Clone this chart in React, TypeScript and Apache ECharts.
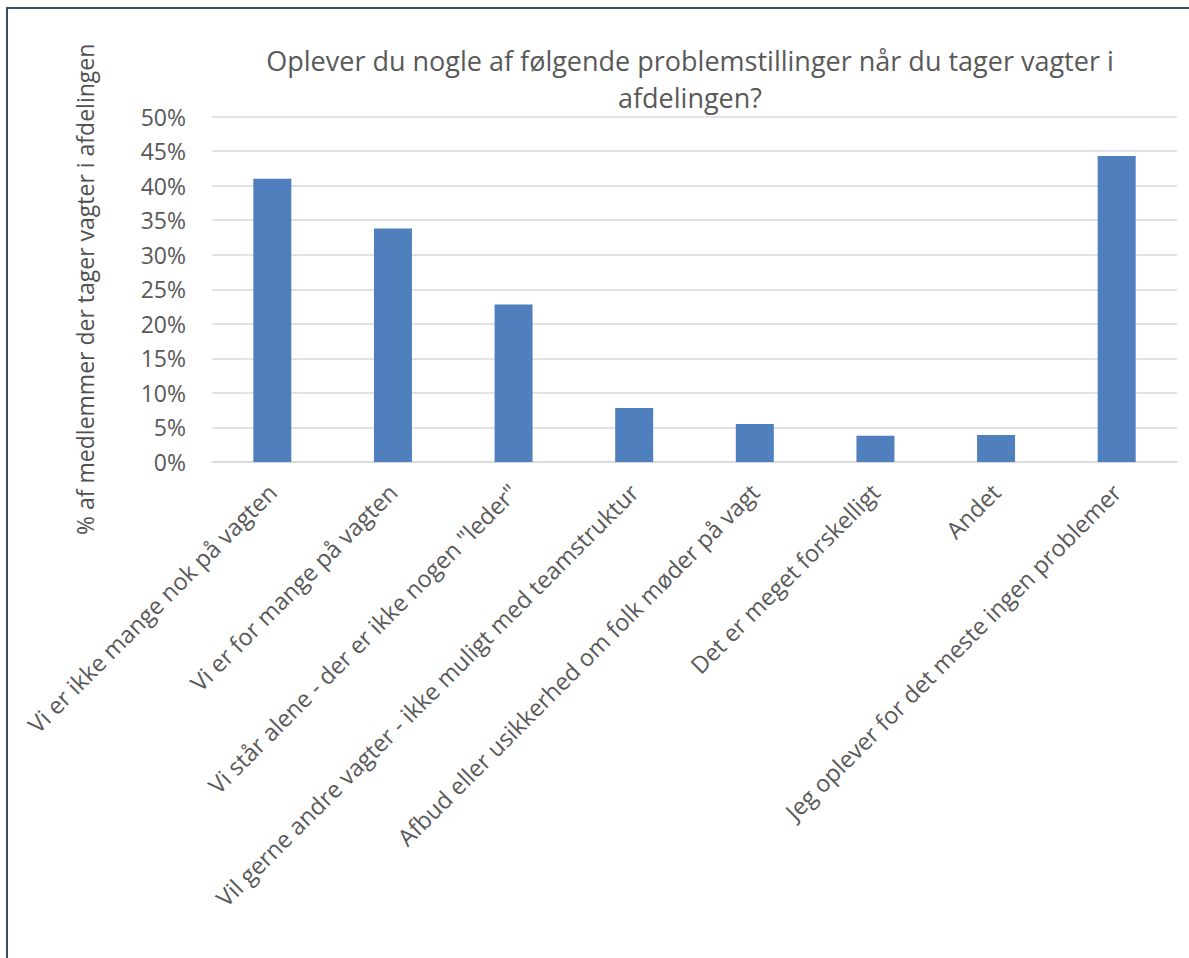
import React, { useEffect, useRef } from "react";
import * as echarts from "echarts";

const titleText = "Oplever du nogle af følgende problemstillinger når du tager vagter i\nafdelingen?";
const yAxisTitle = "% af medlemmer der tager vagter i afdelingen";
const categories = [
  "Vi er ikke mange nok på vagten",
  "Vi er for mange på vagten",
  "Vi står alene - der er ikke nogen \"leder\"",
  "Vil gerne andre vagter - ikke muligt med teamstruktur",
  "Afbud eller usikkerhed om folk møder på vagt",
  "Det er meget forskelligt",
  "Andet",
  "Jeg oplever for det meste ingen problemer",
];
const values = [0.41, 0.338, 0.228, 0.078, 0.055, 0.038, 0.039, 0.443];

const FONT = "'Open Sans', sans-serif";
const TEXT = "#595959";

export default function App() {
  const ref = useRef<HTMLDivElement>(null);
  useEffect(() => {
    if (!ref.current) return;
    const chart = echarts.init(ref.current, null, { renderer: "svg" });
    chart.setOption({
      animation: false,
      backgroundColor: "#ffffff",
      title: {
        text: titleText,
        left: 690,
        top: 42,
        padding: 0,
        textAlign: "center",
        textStyle: {
          fontFamily: FONT,
          fontSize: 27,
          fontWeight: "normal",
          color: TEXT,
          lineHeight: 37,
          align: "center",
        },
      },
      grid: { left: 212, right: 12, top: 116.6, bottom: 496 },
      xAxis: {
        type: "category",
        data: categories,
        axisLine: { lineStyle: { color: "#D9D9D9", width: 1.5 } },
        axisTick: { show: false },
        axisLabel: {
          rotate: 45,
          interval: 0,
          margin: 26,
          fontFamily: FONT,
          fontSize: 23.5,
          color: TEXT,
        },
      },
      yAxis: {
        type: "value",
        min: 0,
        max: 0.5,
        interval: 0.05,
        name: yAxisTitle,
        nameLocation: "middle",
        nameRotate: 90,
        nameGap: 116,
        nameTextStyle: { fontFamily: FONT, fontSize: 23, color: "#505050" },
        axisLine: { show: false },
        axisTick: { show: false },
        splitLine: { lineStyle: { color: "#D9D9D9", width: 1.5 } },
        axisLabel: {
          margin: 26,
          fontFamily: FONT,
          fontSize: 23,
          color: TEXT,
          formatter: (v: number) => Math.round(v * 100) + "%",
        },
      },
      series: [
        {
          type: "bar",
          data: values,
          barWidth: "31.5%",
          itemStyle: { color: "#4F7FBC" },
        },
      ],
      graphic: [
        {
          type: "rect",
          shape: { x: 7, y: 8, width: 1200, height: 1000 },
          style: { fill: "none", stroke: "#3A4E62", lineWidth: 2 },
          silent: true,
        },
      ],
    });
    return () => chart.dispose();
  }, []);
  return (
    <div
      ref={ref}
      style={{ position: "absolute", left: 0, top: 0, width: 1189, height: 958 }}
    />
  );
}
